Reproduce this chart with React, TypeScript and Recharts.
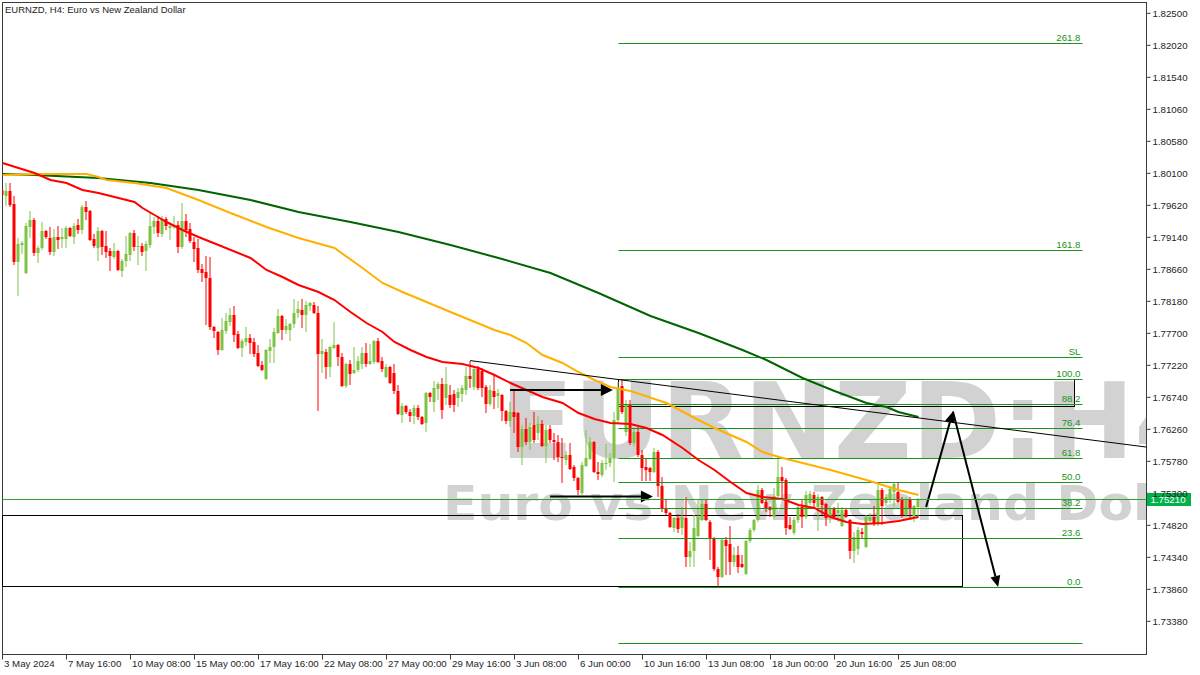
import React from "react";
import {
  ComposedChart,
  Bar,
  Line,
  XAxis,
  YAxis,
  ReferenceLine,
  ReferenceArea,
  ReferenceDot,
} from "recharts";

// EURNZD H4 bars, first bar = 3 May 2024 00:00
const opens = [
  1.7985, 1.7976, 1.79835, 1.7964, 1.7877, 1.79025, 1.78605, 1.79295, 1.794, 1.78905,
  1.7898, 1.79235, 1.7913, 1.7892, 1.79145, 1.79115, 1.79115, 1.7928, 1.79145, 1.79325,
  1.7925, 1.79595, 1.79535, 1.79115, 1.7898, 1.79235, 1.7901, 1.78935, 1.78845, 1.78935,
  1.78635, 1.78785, 1.78875, 1.79205, 1.78995, 1.7901, 1.78935, 1.79025, 1.79295, 1.79385,
  1.7919, 1.79415, 1.7928, 1.79295, 1.79325, 1.78995, 1.79385, 1.79265, 1.7907, 1.7898,
  1.78665, 1.7862, 1.7853, 1.77795, 1.7772, 1.7745, 1.77735, 1.7787, 1.77975, 1.7769,
  1.7748, 1.7757, 1.7763, 1.7757, 1.77405, 1.77225, 1.77015, 1.77435, 1.77495, 1.77705,
  1.7796, 1.7775, 1.7775, 1.7784, 1.78005, 1.7805, 1.77975, 1.7811, 1.78125, 1.78005,
  1.7739, 1.7742, 1.77195, 1.7748, 1.77525, 1.77345, 1.7691, 1.7724, 1.77105, 1.7715,
  1.7724, 1.77405, 1.7724, 1.7727, 1.77585, 1.77285, 1.77045, 1.77195, 1.77105, 1.76835,
  1.76475, 1.7661, 1.7652, 1.7646, 1.7658, 1.76445, 1.76355, 1.76805, 1.7667, 1.76865,
  1.7694, 1.7673, 1.76775, 1.7679, 1.7673, 1.7679, 1.7685, 1.7706, 1.76895, 1.77165,
  1.77135, 1.76895, 1.7664, 1.76835, 1.7676, 1.76775, 1.76535, 1.76385, 1.7652, 1.76505,
  1.75995, 1.76265, 1.7607, 1.76325, 1.76205, 1.7634, 1.7601, 1.76265, 1.761, 1.7607,
  1.75845, 1.758, 1.75875, 1.75695, 1.7553, 1.75305, 1.7571, 1.75815, 1.7607, 1.7562,
  1.75575, 1.7574, 1.75755, 1.7583, 1.764, 1.7691, 1.7622, 1.76625, 1.76055, 1.7622,
  1.75875, 1.75695, 1.7568, 1.7562, 1.7592, 1.7541, 1.7508, 1.75005, 1.7478, 1.7493,
  1.7478, 1.7493, 1.74345, 1.74435, 1.7466, 1.749, 1.7514, 1.7487, 1.7463, 1.74165,
  1.74045, 1.746, 1.7454, 1.7427, 1.74375, 1.7424, 1.7409, 1.74585, 1.7475, 1.749,
  1.7535, 1.7517, 1.75095, 1.74945, 1.7526, 1.75545, 1.755, 1.74825, 1.74705, 1.749,
  1.75095, 1.74945, 1.75155, 1.75275, 1.75095, 1.75245, 1.7514, 1.74945, 1.75065, 1.75005,
  1.7481, 1.7505, 1.749, 1.74435, 1.74465, 1.7472, 1.74495, 1.74885, 1.74945, 1.7484,
  1.7535, 1.75155, 1.752, 1.7532, 1.7532, 1.752, 1.74975, 1.752, 1.74945, 1.75095,
];
const highs = [
  1.7988, 1.79955, 1.79955, 1.7976, 1.7913, 1.79085, 1.79355, 1.79535, 1.7943, 1.7901,
  1.7937, 1.7925, 1.79295, 1.79265, 1.7931, 1.7928, 1.7931, 1.79295, 1.79355, 1.79415,
  1.79625, 1.79685, 1.7955, 1.7919, 1.79295, 1.7925, 1.79235, 1.7898, 1.79055, 1.7895,
  1.78815, 1.7916, 1.7922, 1.7925, 1.7916, 1.79055, 1.79085, 1.79505, 1.79445, 1.7946,
  1.7946, 1.79445, 1.7937, 1.7946, 1.79385, 1.79655, 1.7949, 1.79355, 1.79145, 1.79115,
  1.7874, 1.7886, 1.78845, 1.7781, 1.77735, 1.7793, 1.78005, 1.7808, 1.7811, 1.77735,
  1.77615, 1.77795, 1.7769, 1.7763, 1.77525, 1.77285, 1.77465, 1.77615, 1.7778, 1.78065,
  1.77975, 1.77915, 1.77855, 1.78215, 1.78185, 1.78215, 1.78185, 1.7817, 1.7817, 1.7811,
  1.77615, 1.77465, 1.7751, 1.7787, 1.7754, 1.77405, 1.77255, 1.773, 1.77495, 1.7736,
  1.77495, 1.77555, 1.7754, 1.776, 1.7763, 1.77345, 1.7724, 1.7721, 1.7724, 1.76925,
  1.76655, 1.76625, 1.76565, 1.76625, 1.76625, 1.7646, 1.7682, 1.7682, 1.76985, 1.7697,
  1.7703, 1.77195, 1.76925, 1.7685, 1.7688, 1.76925, 1.77195, 1.77285, 1.77195, 1.7721,
  1.7718, 1.76925, 1.76925, 1.77075, 1.76865, 1.7679, 1.7655, 1.7667, 1.7685, 1.7652,
  1.76325, 1.7643, 1.76355, 1.7652, 1.7646, 1.764, 1.76325, 1.76325, 1.76205, 1.76175,
  1.7613, 1.75935, 1.76055, 1.75725, 1.75545, 1.7577, 1.7625, 1.76145, 1.7609, 1.7577,
  1.758, 1.7604, 1.75905, 1.7652, 1.7697, 1.77015, 1.767, 1.767, 1.7628, 1.76295,
  1.7595, 1.7583, 1.75695, 1.7598, 1.7595, 1.75545, 1.752, 1.7502, 1.74945, 1.7499,
  1.75095, 1.75245, 1.7457, 1.74975, 1.75215, 1.752, 1.75215, 1.749, 1.74645, 1.74195,
  1.7463, 1.74645, 1.7481, 1.74495, 1.7451, 1.74375, 1.746, 1.7478, 1.74915, 1.75425,
  1.7538, 1.752, 1.7511, 1.7538, 1.7586, 1.75695, 1.7553, 1.74945, 1.74945, 1.7511,
  1.752, 1.75335, 1.75335, 1.7532, 1.7529, 1.7526, 1.75155, 1.7511, 1.75095, 1.75155,
  1.75095, 1.75065, 1.74915, 1.7472, 1.74795, 1.7478, 1.74975, 1.75005, 1.7511, 1.75425,
  1.7538, 1.7529, 1.7541, 1.75455, 1.75455, 1.75245, 1.75245, 1.75245, 1.75125, 1.75235,
];
const lows = [
  1.7976, 1.7961, 1.79595, 1.78725, 1.7826, 1.7889, 1.7859, 1.7913, 1.7886, 1.78755,
  1.7895, 1.79115, 1.78875, 1.7886, 1.78965, 1.7898, 1.7898, 1.79145, 1.7904, 1.7919,
  1.7919, 1.794, 1.79085, 1.7898, 1.78785, 1.78875, 1.7883, 1.78635, 1.78815, 1.78635,
  1.78545, 1.78695, 1.78785, 1.78935, 1.78725, 1.7886, 1.78635, 1.7898, 1.7919, 1.79145,
  1.79145, 1.7925, 1.791, 1.79265, 1.78905, 1.78965, 1.79145, 1.79055, 1.7877, 1.78605,
  1.7847, 1.77825, 1.7775, 1.7763, 1.77375, 1.77435, 1.7769, 1.7781, 1.7757, 1.77465,
  1.77345, 1.7751, 1.7739, 1.77345, 1.77195, 1.77135, 1.77, 1.77255, 1.77255, 1.7769,
  1.776, 1.7769, 1.77585, 1.7778, 1.7793, 1.7778, 1.7772, 1.78035, 1.7799, 1.76535,
  1.77105, 1.77015, 1.77045, 1.77465, 1.7721, 1.76895, 1.7688, 1.76925, 1.7709, 1.7712,
  1.77165, 1.77195, 1.77225, 1.7724, 1.77255, 1.7712, 1.7703, 1.7694, 1.7679, 1.76475,
  1.76355, 1.7649, 1.7637, 1.7634, 1.764, 1.76325, 1.7622, 1.7667, 1.7652, 1.767,
  1.76415, 1.76625, 1.7658, 1.7652, 1.76595, 1.7667, 1.76775, 1.7688, 1.7685, 1.7685,
  1.76745, 1.76505, 1.7661, 1.76565, 1.7658, 1.76385, 1.7634, 1.76295, 1.76205, 1.7592,
  1.75725, 1.76025, 1.7595, 1.76055, 1.761, 1.75995, 1.75755, 1.76055, 1.758, 1.7577,
  1.75455, 1.75725, 1.7565, 1.75485, 1.75275, 1.75275, 1.75695, 1.758, 1.75605, 1.755,
  1.75545, 1.7565, 1.75695, 1.7547, 1.76355, 1.7649, 1.7616, 1.76025, 1.7601, 1.75845,
  1.75485, 1.75485, 1.75485, 1.75605, 1.75245, 1.7502, 1.74975, 1.7478, 1.7472, 1.74705,
  1.74675, 1.74195, 1.74195, 1.74195, 1.74645, 1.74885, 1.74885, 1.743, 1.74135, 1.73895,
  1.7403, 1.74075, 1.74075, 1.74195, 1.74105, 1.7418, 1.74075, 1.74555, 1.7472, 1.7487,
  1.7514, 1.7502, 1.74945, 1.749, 1.75245, 1.752, 1.74675, 1.7475, 1.74675, 1.74855,
  1.7478, 1.74915, 1.75125, 1.75095, 1.74735, 1.74975, 1.7481, 1.74855, 1.7493, 1.7487,
  1.74795, 1.7493, 1.74315, 1.74255, 1.74375, 1.7463, 1.7448, 1.7487, 1.7481, 1.7481,
  1.74825, 1.7511, 1.75155, 1.75095, 1.75155, 1.7493, 1.74945, 1.74915, 1.7487, 1.74945,
];
const closes = [
  1.79775, 1.79835, 1.79625, 1.7877, 1.7904, 1.79055, 1.7931, 1.794, 1.78905, 1.7898,
  1.79235, 1.79145, 1.7892, 1.79145, 1.791, 1.79145, 1.7928, 1.7916, 1.7931, 1.7925,
  1.79595, 1.7952, 1.791, 1.7901, 1.79235, 1.78995, 1.7892, 1.7886, 1.78935, 1.7865,
  1.78785, 1.7889, 1.79205, 1.78995, 1.7901, 1.7892, 1.7904, 1.7931, 1.79385, 1.79205,
  1.79415, 1.7931, 1.7931, 1.7931, 1.78995, 1.79385, 1.7925, 1.79085, 1.78965, 1.7865,
  1.78605, 1.7853, 1.77795, 1.77735, 1.7745, 1.7775, 1.77885, 1.77975, 1.77675, 1.7748,
  1.77585, 1.7763, 1.77555, 1.7739, 1.7721, 1.7715, 1.7745, 1.77495, 1.7772, 1.7796,
  1.7775, 1.7781, 1.7784, 1.78005, 1.78065, 1.77975, 1.78125, 1.78155, 1.78005, 1.7739,
  1.77435, 1.77195, 1.77495, 1.77525, 1.77345, 1.7691, 1.7724, 1.7709, 1.7715, 1.77285,
  1.77405, 1.7724, 1.77285, 1.77585, 1.7727, 1.77165, 1.77195, 1.76955, 1.76835, 1.7649,
  1.7661, 1.7652, 1.7646, 1.7658, 1.76445, 1.7634, 1.76805, 1.76745, 1.7688, 1.7694,
  1.7655, 1.7694, 1.76625, 1.76625, 1.7682, 1.7688, 1.7706, 1.77015, 1.77165, 1.7688,
  1.7688, 1.7664, 1.7685, 1.76745, 1.76805, 1.76535, 1.76385, 1.7652, 1.76445, 1.75995,
  1.76265, 1.7607, 1.76295, 1.761, 1.7634, 1.7601, 1.7625, 1.761, 1.7607, 1.75845,
  1.7583, 1.75875, 1.75665, 1.7553, 1.7535, 1.75725, 1.7583, 1.7607, 1.7562, 1.7559,
  1.75755, 1.75755, 1.7583, 1.764, 1.7688, 1.7652, 1.76625, 1.76055, 1.7622, 1.75875,
  1.7568, 1.7565, 1.7562, 1.7592, 1.7541, 1.75065, 1.75005, 1.74795, 1.7493, 1.74765,
  1.74945, 1.74345, 1.74435, 1.7478, 1.74945, 1.7514, 1.749, 1.7463, 1.74165, 1.74045,
  1.746, 1.7451, 1.7427, 1.74375, 1.74195, 1.74195, 1.74585, 1.7475, 1.749, 1.7535,
  1.75155, 1.75065, 1.7505, 1.7526, 1.75545, 1.75485, 1.7478, 1.74765, 1.749, 1.75095,
  1.74945, 1.75275, 1.7529, 1.75155, 1.75245, 1.75125, 1.7493, 1.75065, 1.74945, 1.7505,
  1.7505, 1.74945, 1.74435, 1.74645, 1.7475, 1.7469, 1.74945, 1.74945, 1.74855, 1.7535,
  1.7511, 1.75245, 1.75365, 1.7544, 1.7517, 1.74975, 1.752, 1.75065, 1.7511, 1.7521,
];

const maRedBars = [0, 8, 12, 16, 20, 24, 33, 35, 38, 41, 45, 49, 54, 62, 66, 70, 74, 79, 83, 87, 91, 95, 98, 102, 106, 110, 115, 119, 123, 127, 131, 135, 140, 144, 148, 152, 157, 161, 165, 170, 174, 178, 182, 186, 190, 195, 199, 203, 207, 211, 215, 220, 224, 229];
const maRedValues = [1.80255, 1.80105, 1.8, 1.79955, 1.7985, 1.79805, 1.7967, 1.7958, 1.79475, 1.7937, 1.7925, 1.79145, 1.79025, 1.7883, 1.7865, 1.78545, 1.78425, 1.7832, 1.782, 1.7802, 1.77855, 1.7772, 1.7757, 1.7745, 1.77345, 1.7727, 1.7724, 1.7718, 1.77075, 1.76955, 1.7685, 1.76745, 1.76655, 1.76505, 1.76415, 1.76355, 1.7634, 1.7628, 1.76175, 1.7598, 1.758, 1.7565, 1.7547, 1.75305, 1.75245, 1.75215, 1.75125, 1.7508, 1.74945, 1.7487, 1.7484, 1.74855, 1.74885, 1.74945];
const maOrangeBars = [0, 10, 21, 24, 26, 33, 41, 49, 57, 66, 74, 83, 90, 95, 100, 112, 123, 127, 131, 135, 140, 144, 148, 152, 157, 166, 174, 178, 186, 190, 195, 199, 207, 216, 224, 229];
const maOrangeValues = [1.80075, 1.8009, 1.8009, 1.80045, 1.8, 1.79955, 1.7988, 1.797, 1.79505, 1.79295, 1.7913, 1.7898, 1.7868, 1.78455, 1.7832, 1.7802, 1.7775, 1.77675, 1.77555, 1.77375, 1.77255, 1.7712, 1.77, 1.76895, 1.76835, 1.76655, 1.764, 1.7628, 1.7607, 1.7592, 1.7583, 1.7577, 1.7565, 1.755, 1.7535, 1.75275];
const maGreenBars = [0, 8, 24, 37, 49, 62, 74, 87, 99, 112, 124, 137, 149, 162, 174, 185, 191, 200, 208, 216, 221, 224, 229];
const maGreenValues = [1.8009, 1.80075, 1.8003, 1.79955, 1.7985, 1.797, 1.7952, 1.7937, 1.7922, 1.79025, 1.7883, 1.78605, 1.78305, 1.7796, 1.77705, 1.7745, 1.773, 1.7703, 1.76835, 1.76655, 1.76595, 1.7652, 1.76445];

const dateTickBars = [0, 16, 32, 48, 64, 80, 96, 112, 128, 144, 160, 176, 192, 208, 224];
const dateTickLabels = [
  "3 May 2024", "7 May 16:00", "10 May 08:00", "15 May 00:00", "17 May 16:00",
  "22 May 08:00", "27 May 00:00", "29 May 16:00", "3 Jun 08:00", "6 Jun 00:00",
  "10 Jun 16:00", "13 Jun 08:00", "18 Jun 00:00", "20 Jun 16:00", "25 Jun 08:00",
];
const priceTicks = [
  1.825, 1.8202, 1.8154, 1.8106, 1.8058, 1.801, 1.7962, 1.7914, 1.7866, 1.7818,
  1.777, 1.7722, 1.7674, 1.7626, 1.7578, 1.753, 1.7482, 1.7434, 1.7386, 1.7338,
];

// fibonacci retracement drawn from bar 154 to bar 270
const fibLevels = [1.82055, 1.78935, 1.7733, 1.77015, 1.7664, 1.7628, 1.7583, 1.75455, 1.7508, 1.7463, 1.73895, 1.73055];
const fibLabels = ["261.8", "161.8", "SL", "100.0", "88.2", "76.4", "61.8", "50.0", "38.2", "23.6", "0.0", ""];
const fibFrom = 154;
const fibTo = 270;

// drawing objects (bar index, price)
const zoneTop = { x1: 153.9, x2: 267.9, y1: 1.7661, y2: 1.77015 };
const zoneBottom = { x1: 0, x2: 239.9, y1: 1.73905, y2: 1.7496 };
const trendLine = [{ x: 116.9, y: 1.77291 }, { x: 286, y: 1.75994 }];
const arrowUpper = [{ x: 126.9, y: 1.7685 }, { x: 152.6, y: 1.7685 }];
const arrowLower = [{ x: 136.9, y: 1.75252 }, { x: 162.6, y: 1.75252 }];
const pathUp = [{ x: 230.9, y: 1.75095 }, { x: 237.6, y: 1.76527 }];
const pathDown = [{ x: 237.6, y: 1.76527 }, { x: 248.9, y: 1.73895 }];

const xMax = 286;
const yMin = 1.728825;
const yMax = 1.826625;

const BULL = "#7ec242";
const BEAR = "#ff0000";
const FIB = "#1c931c";
const FRAME = "#3a3a3a";
const TEXT = "#1e1e1e";
const FONT = "'Liberation Sans', Arial, sans-serif";

const candles = opens.map((open, i) => ({
  i,
  open,
  high: highs[i],
  low: lows[i],
  close: closes[i],
  range: [lows[i], highs[i]],
}));

const toSeries = (bars: number[], values: number[]) =>
  bars.map((b, k) => ({ i: b, v: values[k] }));

const px = (v: number) => Math.floor(v) + 0.5;

const Candle = (props: any) => {
  const { x, y, width, height, payload } = props;
  if (!payload) return null;
  const top = Math.min(y, y + height);
  const bottom = Math.max(y, y + height);
  const span = payload.high - payload.low;
  const toY = (v: number) =>
    span > 0 ? top + ((payload.high - v) / span) * (bottom - top) : top;
  const cx = x + width / 2;
  const color = payload.close >= payload.open ? BULL : BEAR;
  const bTop = Math.round(toY(Math.max(payload.open, payload.close)));
  const bBot = Math.max(bTop + 1, Math.round(toY(Math.min(payload.open, payload.close))));
  return (
    <g>
      <line x1={cx} x2={cx} y1={Math.round(top)} y2={Math.round(bottom)} stroke={color} strokeWidth={1} />
      <rect x={cx - 1.5} y={bTop} width={3} height={bBot - bTop} fill={color} />
    </g>
  );
};

// crisp 1px horizontal line
const flatLine = (color: string) => (p: any) => (
  <line x1={p.x1} x2={p.x2} y1={px(p.y1)} y2={px(p.y2)} stroke={color} strokeWidth={1} />
);

// crisp outline box
const outlineBox = (color: string) => (p: any) => {
  const x0 = px(p.x);
  const y0 = px(p.y);
  const x1 = px(p.x + p.width);
  const y1 = px(p.y + p.height);
  return <rect x={x0} y={y0} width={x1 - x0} height={y1 - y0} fill="none" stroke={color} strokeWidth={1} />;
};

const arrowShape = (len: number, half: number) => (p: any) => {
  const { x1, y1, x2, y2 } = p;
  const a = Math.atan2(y2 - y1, x2 - x1);
  const bx = x2 - len * Math.cos(a);
  const by = y2 - len * Math.sin(a);
  const ox = -Math.sin(a) * half;
  const oy = Math.cos(a) * half;
  return (
    <g>
      <line x1={x1} y1={y1} x2={bx} y2={by} stroke="#000" strokeWidth={2} />
      <polygon points={`${x2},${y2} ${bx + ox},${by + oy} ${bx - ox},${by - oy}`} fill="#000" />
    </g>
  );
};

const DateTick = (props: any) => {
  const { x, y, payload } = props;
  const idx = dateTickBars.indexOf(payload.value);
  return (
    <g>
      <line x1={x} x2={x} y1={y} y2={y + 5} stroke={FRAME} />
      <text x={x + 1.5} y={y + 12} fontSize={9.7} fontFamily={FONT} fill={TEXT}>
        {dateTickLabels[idx]}
      </text>
    </g>
  );
};

export default function App() {
  const last = closes[closes.length - 1];
  return (
    <div style={{ position: "absolute", left: 0, top: 0, width: 1200, height: 675, background: "#fff", overflow: "hidden" }}>
      {/* watermark + title behind the chart */}
      <svg width={1146} height={675} style={{ position: "absolute", left: 0, top: 0 }}>
        <text transform="translate(500,458) scale(1.025,1)" fontFamily="'DejaVu Sans', sans-serif" fontWeight="bold" fontSize={105} fill="#d2d2d2">
          EURNZD:H4
        </text>
        <text transform="translate(443,520) scale(1.05,1)" fontFamily="'DejaVu Sans', sans-serif" fontWeight="bold" fontSize={48} fill="#d2d2d2">
          Euro vs New Zealand Dollar
        </text>
        <text x={5} y={13} fontFamily={FONT} fontSize={9.5} fill={TEXT}>
          EURNZD, H4:  Euro vs New Zealand Dollar
        </text>
      </svg>
      <div style={{ position: "absolute", left: 0, top: 0 }}>
        <ComposedChart width={1200} height={675} data={candles} margin={{ top: 2.5, right: 0, bottom: 0, left: 2.5 }}>
          <XAxis
            dataKey="i"
            type="number"
            domain={[0, xMax]}
            allowDataOverflow
            ticks={dateTickBars}
            interval={0}
            height={20.5}
            axisLine={false}
            tickLine={false}
            tickSize={0}
            tickMargin={0}
            tick={<DateTick />}
          />
          <YAxis
            orientation="right"
            type="number"
            domain={[yMin, yMax]}
            allowDataOverflow
            ticks={priceTicks}
            interval={0}
            width={53.5}
            axisLine={false}
            tickSize={4}
            tickMargin={2}
            tickLine={{ stroke: FRAME }}
            tick={{ fontSize: 9.7, fontFamily: FONT, fill: TEXT }}
            tickFormatter={(v: number) => v.toFixed(5)}
          />
          <ReferenceArea x1={0} x2={xMax} y1={yMin} y2={yMax} ifOverflow="visible" shape={outlineBox(FRAME)} />
          <ReferenceArea {...zoneBottom} ifOverflow="visible" shape={outlineBox("#000")} />
          <ReferenceArea {...zoneTop} ifOverflow="visible" shape={outlineBox("#000")} />
          {fibLevels.map((lv, k) => (
            <ReferenceLine key={`fib-${k}`} segment={[{ x: fibFrom, y: lv }, { x: fibTo, y: lv }]} ifOverflow="visible" shape={flatLine(FIB)} />
          ))}
          {fibLevels.map((lv, k) => (
            <ReferenceDot
              key={`fibl-${k}`}
              x={fibTo}
              y={lv}
              ifOverflow="visible"
              shape={(p: any) => (
                <text x={p.cx - 2} y={Math.floor(p.cy) - 2} textAnchor="end" fontSize={9.7} fontFamily={FONT} fill={FIB}>
                  {fibLabels[k]}
                </text>
              )}
            />
          ))}
          <Bar dataKey="range" barSize={3} shape={<Candle />} isAnimationActive={false} />
          <Line data={toSeries(maGreenBars, maGreenValues)} dataKey="v" type="linear" stroke="#006400" strokeWidth={2} dot={false} isAnimationActive={false} />
          <Line data={toSeries(maOrangeBars, maOrangeValues)} dataKey="v" type="linear" stroke="#ffb000" strokeWidth={2} dot={false} isAnimationActive={false} />
          <Line data={toSeries(maRedBars, maRedValues)} dataKey="v" type="linear" stroke="#ff0000" strokeWidth={2} dot={false} isAnimationActive={false} />
          <ReferenceLine segment={trendLine} stroke="#000" strokeWidth={1} ifOverflow="visible" />
          <ReferenceLine segment={arrowUpper} ifOverflow="visible" shape={arrowShape(12, 6)} />
          <ReferenceLine segment={arrowLower} ifOverflow="visible" shape={arrowShape(12, 6)} />
          <ReferenceLine segment={pathUp} ifOverflow="visible" shape={arrowShape(11, 5)} />
          <ReferenceLine segment={pathDown} ifOverflow="visible" shape={arrowShape(11, 5)} />
          <ReferenceLine y={last} shape={flatLine("#2f9f2f")} />
          <ReferenceDot
            x={xMax}
            y={last}
            ifOverflow="visible"
            shape={(p: any) => (
              <g>
                <rect x={p.cx + 0.5} y={Math.floor(p.cy) - 6} width={44} height={13} fill="#00b24a" />
                <text x={p.cx + 4} y={Math.floor(p.cy) + 4} fontSize={9.7} fontFamily={FONT} fill="#fff">
                  {last.toFixed(5)}
                </text>
              </g>
            )}
          />
        </ComposedChart>
      </div>
    </div>
  );
}
